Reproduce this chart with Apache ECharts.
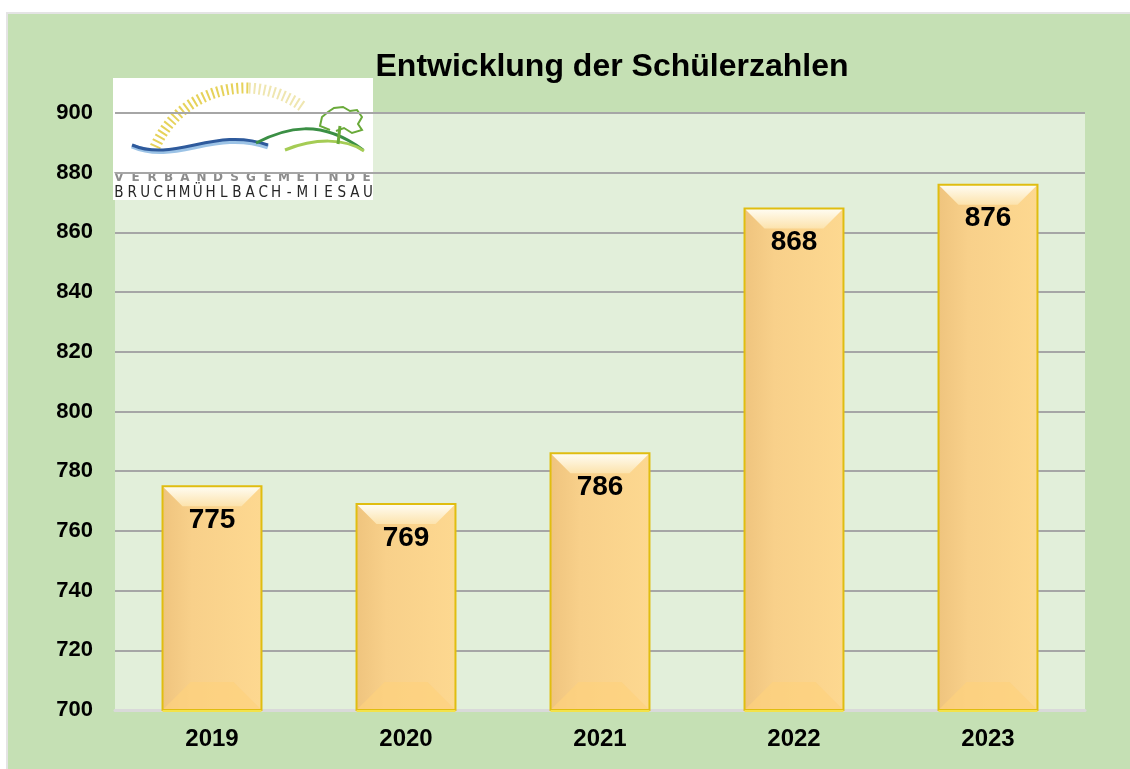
<!DOCTYPE html>
<html lang="de">
<head>
    <meta charset="UTF-8">
    <script src="https://cdn.jsdelivr.net/npm/echarts@6.0.0/dist/echarts.min.js"></script>
    <title>Entwicklung der Schülerzahlen</title>
    <style>
        body { margin: 0; background: #ffffff; }
        #frame { position: absolute; left: 6px; top: 12px; right: 0; bottom: 0;
                 background: #c5e0b4; border-top: 2px solid #e4e4e4; border-left: 2px solid #e4e4e4; }
        #container { position: absolute; left: 0; top: 0; width: 1130px; height: 769px; }
    </style>
</head>
<body>
<div id="frame"></div>
<div id="container"></div>
<script>
    // Daten
    var years = ['2019', '2020', '2021', '2022', '2023'];
    var pupils = [775, 769, 786, 868, 876];
    var yMin = 700, yMax = 900, yStep = 20;

    var myChart = echarts.init(document.getElementById('container'));

    // Logo der Verbandsgemeinde (grob nachgezeichnet)
    var logo = [
        { type: 'rect', shape: { x: 113, y: 78, width: 260, height: 122 }, style: { fill: '#ffffff' } },
        { type: 'arc', shape: { cx: 245, cy: 186, r: 98, startAngle: 3.50, endAngle: 4.75 },
          style: { stroke: '#e6d25a', lineWidth: 11, lineDash: [2, 3], fill: null } },
        { type: 'arc', shape: { cx: 245, cy: 186, r: 98, startAngle: 4.75, endAngle: 5.35 },
          style: { stroke: '#efe6b0', lineWidth: 11, lineDash: [2, 3], fill: null } },
        // Fluss
        { type: 'bezierCurve', shape: { x1: 132, y1: 146, cpx1: 175, cpy1: 165, cpx2: 215, cpy2: 128, x2: 268, y2: 147 },
          style: { stroke: '#9cc3e6', lineWidth: 5, fill: null } },
        { type: 'bezierCurve', shape: { x1: 132, y1: 145, cpx1: 175, cpy1: 163, cpx2: 215, cpy2: 126, x2: 268, y2: 145 },
          style: { stroke: '#2e5a9c', lineWidth: 3, fill: null } },
        // Hügel
        { type: 'bezierCurve', shape: { x1: 256, y1: 143, cpx1: 285, cpy1: 128, cpx2: 320, cpy2: 118, x2: 363, y2: 150 },
          style: { stroke: '#3b8f45', lineWidth: 3, fill: null } },
        { type: 'bezierCurve', shape: { x1: 285, y1: 150, cpx1: 315, cpy1: 138, cpx2: 345, cpy2: 138, x2: 364, y2: 151 },
          style: { stroke: '#a5cc55', lineWidth: 3, fill: null } },
        // Baum
        { type: 'line', shape: { x1: 340, y1: 126, x2: 338, y2: 144 }, style: { stroke: '#6aaa3a', lineWidth: 3 } },
        { type: 'polyline', shape: { points: [[330, 130], [320, 126], [322, 117], [328, 112], [334, 108], [343, 107],
            [350, 111], [357, 110], [362, 117], [358, 124], [362, 130], [352, 133], [344, 128], [336, 131]] },
          style: { stroke: '#6aaa3a', lineWidth: 2, fill: null } }
    ];
    var topWord = 'VERBANDSGEMEINDE', bottomWord = 'BRUCHMÜHLBACH-MIESAU';
    for (var i = 0; i < topWord.length; i++) {
        logo.push({ type: 'text', x: 119 + i * 16.5, y: 178, style: { text: topWord[i], fill: '#8c8c8c',
            align: 'center', verticalAlign: 'middle', font: 'bold 12px "DejaVu Sans"' } });
    }
    for (var j = 0; j < bottomWord.length; j++) {
        logo.push({ type: 'text', x: 119 + j * 13.1, y: 193, style: { text: bottomWord[j], fill: '#262626',
            align: 'center', verticalAlign: 'middle', font: '15px "DejaVu Sans Condensed"' } });
    }

    // Säule mit Facetten
    function renderBar(params, api) {
        var top = api.coord([api.value(0), api.value(1)]);
        var base = api.coord([api.value(0), yMin]);
        var w = api.size([1, 0])[0] * 0.51;
        var x0 = top[0] - w / 2, x1 = top[0] + w / 2, y0 = top[1], y1 = base[1];
        var d = 20;
        return {
            type: 'group',
            children: [
                { type: 'rect', shape: { x: x0, y: y0, width: w, height: y1 - y0 },
                  style: { fill: new echarts.graphic.LinearGradient(0, 0, 1, 0, [
                      { offset: 0, color: '#efc47e' }, { offset: 0.3, color: '#f8d08a' },
                      { offset: 1, color: '#fdd890' }]) } },
                { type: 'polygon', shape: { points: [[x0, y0], [x1, y0], [x1 - d, y0 + d], [x0 + d, y0 + d]] },
                  style: { fill: new echarts.graphic.LinearGradient(0, 0, 0, 1, [
                      { offset: 0, color: '#fffdf4' }, { offset: 1, color: '#fce3ad' }]) } },
                { type: 'polygon', shape: { points: [[x0, y1], [x1, y1], [x1 - 28, y1 - 28], [x0 + 28, y1 - 28]] },
                  style: { fill: '#fdd27e', opacity: 0.7 } },
                { type: 'rect', shape: { x: x0, y: y0, width: w, height: y1 - y0 },
                  style: { fill: null, stroke: '#e0bd10', lineWidth: 2 } },
                { type: 'line', shape: { x1: x0, y1: y1 + 1, x2: x1, y2: y1 + 1 },
                  style: { stroke: '#f3e24a', lineWidth: 2 } },
                { type: 'text', x: top[0], y: y0 + 20,
                  style: { text: String(api.value(1)), fill: '#000', align: 'center', verticalAlign: 'top',
                      font: 'bold 28px "Liberation Sans"' } }
            ]
        };
    }

    var option = {
        backgroundColor: 'transparent',
        animation: false,
        title: {
            text: 'Entwicklung der Schülerzahlen',
            left: 607, top: 46, textAlign: 'center',
            textStyle: { fontFamily: 'Liberation Sans', fontWeight: 'bold', fontSize: 32, color: '#000' }
        },
        grid: {
            left: 115, right: 45, top: 113, bottom: 59,
            show: true, backgroundColor: '#e2efda', borderWidth: 0
        },
        xAxis: {
            type: 'category',
            data: years,
            axisLine: { lineStyle: { color: '#d9d9d9', width: 3 } },
            axisTick: { show: false },
            axisLabel: { margin: 17, fontFamily: 'Liberation Sans', fontWeight: 'bold', fontSize: 24, color: '#000' }
        },
        yAxis: {
            type: 'value',
            min: yMin, max: yMax, interval: yStep,
            axisLine: { show: false },
            axisTick: { show: false },
            splitLine: { lineStyle: { color: '#a6a6a6', width: 2 } },
            axisLabel: { margin: 22, fontFamily: 'Liberation Sans', fontWeight: 'bold', fontSize: 22, color: '#000' }
        },
        graphic: logo,
        series: [{
            type: 'custom',
            data: pupils.map(function (v, k) { return [k, v]; }),
            encode: { x: 0, y: 1 },
            clip: false,
            renderItem: renderBar
        }]
    };

    myChart.setOption(option);
</script>
</body>
</html>
